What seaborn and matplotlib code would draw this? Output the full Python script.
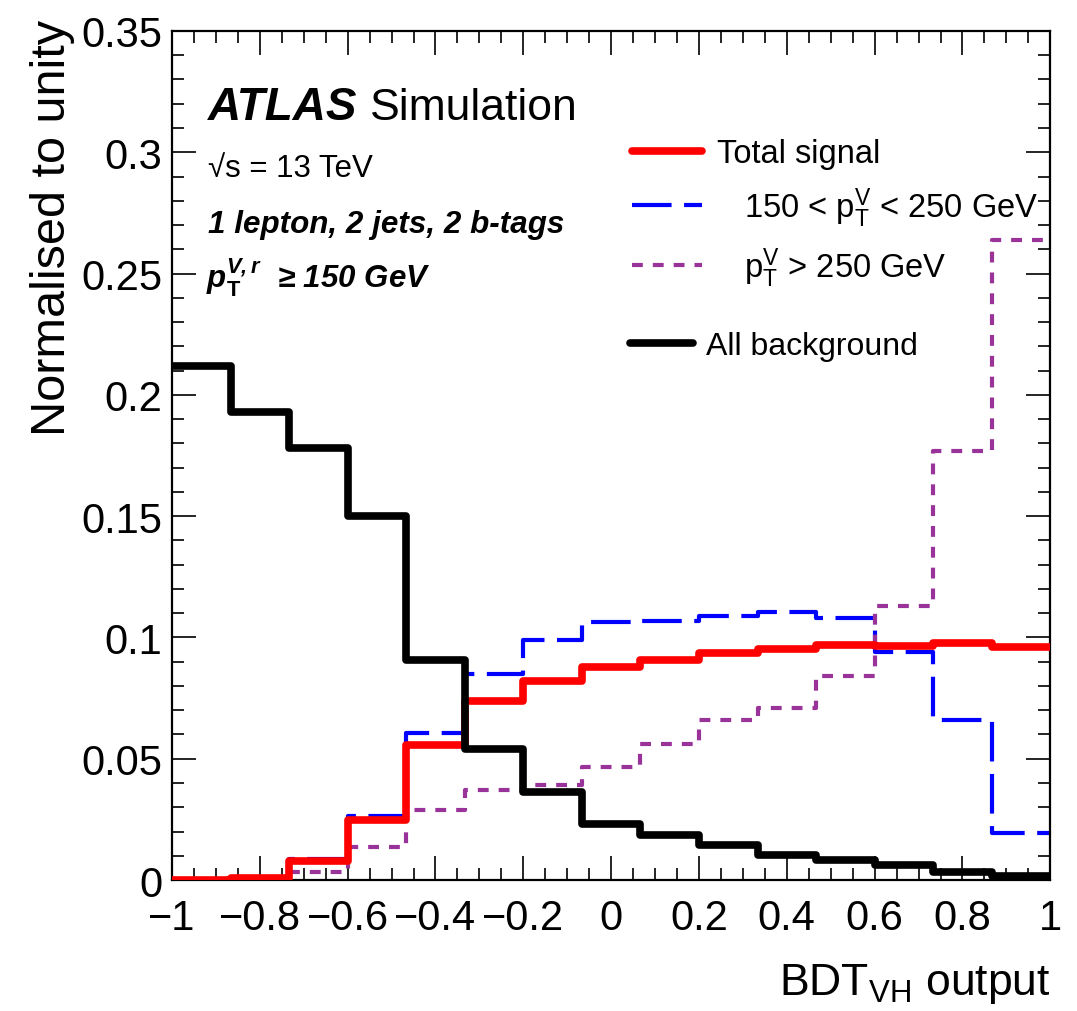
import numpy as np
import matplotlib
matplotlib.use("Agg")
import matplotlib.pyplot as plt
from matplotlib.lines import Line2D
from matplotlib.ticker import MultipleLocator, FuncFormatter
import seaborn as sns

# bin edges of the BDT output (15 bins from -1 to 1)
edges = np.linspace(-1, 1, 16)
centers = 0.5 * (edges[:-1] + edges[1:])

# normalised yields
total_signal = [0.0, 0.001, 0.0078, 0.0247, 0.0556, 0.0738, 0.082, 0.088,
                0.0907, 0.0936, 0.0952, 0.0969, 0.0965, 0.0977, 0.096]
sig_low_pt = [0.0, 0.0, 0.0087, 0.0264, 0.0606, 0.085, 0.099, 0.1063,
              0.1068, 0.1088, 0.1105, 0.108, 0.094, 0.066, 0.0194]
sig_high_pt = [0.0, 0.0, 0.0033, 0.0136, 0.029, 0.037, 0.039, 0.0466,
               0.056, 0.066, 0.071, 0.084, 0.113, 0.177, 0.264]
background = [0.212, 0.193, 0.178, 0.150, 0.0907, 0.054, 0.0363, 0.0231,
              0.0185, 0.0144, 0.0103, 0.0082, 0.0062, 0.0033, 0.0016]

sns.set_theme(style="ticks")
plt.rcParams['font.family'] = ['Liberation Sans', 'DejaVu Sans']
plt.rcParams['mathtext.fontset'] = 'custom'
plt.rcParams['mathtext.rm'] = 'Liberation Sans'
plt.rcParams['mathtext.it'] = 'Liberation Sans:italic'
plt.rcParams['mathtext.bf'] = 'Liberation Sans:bold:italic'
plt.rcParams['mathtext.sf'] = 'Liberation Sans:bold'
plt.rcParams['axes.unicode_minus'] = True
for key in ['text.color', 'axes.labelcolor', 'xtick.color', 'ytick.color', 'axes.edgecolor']:
    plt.rcParams[key] = 'black'

purple = '#993399'
bin_list = edges.tolist()

fig = plt.figure(figsize=(10.77, 10.12), dpi=100)
ax = fig.add_axes([0.1597, 0.1294, 0.8155, 0.8390])

sns.histplot(x=centers, weights=sig_low_pt, bins=bin_list, element='step', fill=False,
             color='#0000ff', linewidth=3, dashes=(9.5, 3), zorder=2, ax=ax)
sns.histplot(x=centers, weights=sig_high_pt, bins=bin_list, element='step', fill=False,
             color=purple, linewidth=3, dashes=(2.6, 2.4), zorder=3, ax=ax)
sns.histplot(x=centers, weights=total_signal, bins=bin_list, element='step', fill=False,
             color='#ff0000', linewidth=5.5, zorder=4, ax=ax)
sns.histplot(x=centers, weights=background, bins=bin_list, element='step', fill=False,
             color='black', linewidth=5.5, zorder=5, ax=ax)

ax.set_xlim(-1, 1)
ax.set_ylim(0, 0.35)
ax.xaxis.set_major_locator(MultipleLocator(0.2))
ax.xaxis.set_minor_locator(MultipleLocator(0.05))
ax.yaxis.set_major_locator(MultipleLocator(0.05))
ax.yaxis.set_minor_locator(MultipleLocator(0.01))

def fmt(v, pos):
    s = ('%.2f' % v).rstrip('0').rstrip('.')
    if s in ('-0', ''):
        s = '0'
    return s.replace('-', '\u2212')

ax.xaxis.set_major_formatter(FuncFormatter(fmt))
ax.yaxis.set_major_formatter(FuncFormatter(fmt))

ax.tick_params(which='both', direction='in', top=True, right=True, width=1.2, color='black')
ax.tick_params(which='major', length=17)
ax.tick_params(which='minor', length=8.5)
ax.tick_params(axis='x', which='major', labelsize=30, pad=13)
ax.tick_params(axis='y', which='major', labelsize=30, pad=7)
for sp in ax.spines.values():
    sp.set_linewidth(1.6)
    sp.set_color('black')

ax.set_xlabel(r'BDT$_{\mathrm{VH}}$ output', fontsize=32, loc='right')
ax.set_ylabel('Normalised to unity', fontsize=35, loc='top')
ax.xaxis.set_label_coords(1.0, -0.095)
ax.yaxis.set_label_coords(-0.11, 1.014)

tr = ax.transAxes
ax.text(0.041, 0.896, 'ATLAS', fontsize=33, fontweight='bold', fontstyle='italic', transform=tr)
ax.text(0.2255, 0.896, 'Simulation', fontsize=32, transform=tr)
ax.text(0.041, 0.829, '\u221as = 13 TeV', fontsize=22.5, transform=tr)
ax.text(0.041, 0.763, '1 lepton, 2 jets, 2 b-tags', fontsize=22.6, fontweight='bold',
        fontstyle='italic', transform=tr)
ax.text(0.039, 0.698, r'$\mathbf{p}_{\mathsf{T}}^{\mathbf{V,r}}$  ' + '\u2265 150 GeV',
        fontsize=22.5, fontweight='bold', fontstyle='italic', transform=tr)

sig_handles = [
    Line2D([], [], color='#ff0000', lw=5.5),
    Line2D([], [], color='#0000ff', lw=3, dashes=(9.5, 3)),
    Line2D([], [], color=purple, lw=3, dashes=(2.6, 2.4)),
]
sig_labels = ['Total signal',
              r'   150 < $\mathrm{p}_{\mathrm{T}}^{\mathrm{V}}$ < 250 GeV',
              r'   $\mathrm{p}_{\mathrm{T}}^{\mathrm{V}}$ > 250 GeV']
leg1 = ax.legend(sig_handles, sig_labels, loc='upper left', bbox_to_anchor=(0.524, 0.874),
                 frameon=False, fontsize=23.5, handlelength=2.15, handletextpad=0.45,
                 labelspacing=0.5, borderpad=0, borderaxespad=0)
ax.add_artist(leg1)
ax.legend([Line2D([], [], color='black', lw=5.5)], ['All background'], loc='upper left',
          bbox_to_anchor=(0.522, 0.647), frameon=False, fontsize=23, handlelength=1.95,
          handletextpad=0.42, borderpad=0, borderaxespad=0)

fig.savefig('out.png', dpi=100)
